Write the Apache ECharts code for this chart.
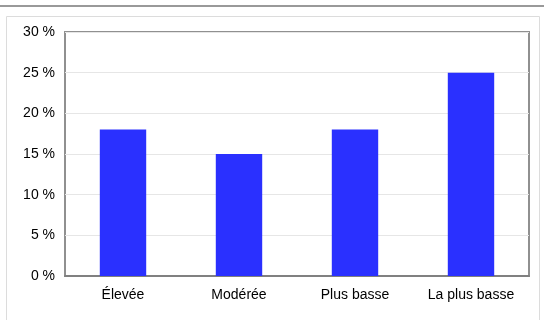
<!DOCTYPE html>
<html>
<head>
<meta charset="utf-8">
<script src="https://cdn.jsdelivr.net/npm/echarts@6/dist/echarts.min.js"></script>
<style>
html,body{margin:0;padding:0;background:#fff;}
#c{width:544px;height:320px;}
</style>
</head>
<body>
<div id="c"></div>
<script>
var categories = ['Élevée', 'Modérée', 'Plus basse', 'La plus basse'];
var values = [18, 15, 18, 25];

var chart = echarts.init(document.getElementById('c'), null, {renderer: 'canvas'});
chart.setOption({
  animation: false,
  backgroundColor: '#fff',
  textStyle: {fontFamily: 'Liberation Sans, Arial, sans-serif'},
  graphic: [
    {type: 'line', shape: {x1: 0, y1: 6, x2: 544, y2: 6}, style: {stroke: '#999', lineWidth: 2}, z: 10},
    {type: 'rect', shape: {x: 6.5, y: 16.5, width: 533, height: 320}, style: {fill: 'none', stroke: '#dcdcdc', lineWidth: 1}, z: -1}
  ],
  grid: {left: 65, right: 15, top: 32, bottom: 44, show: true, borderColor: '#909090', borderWidth: 2, backgroundColor: 'transparent'},
  xAxis: {
    type: 'category',
    data: categories,
    axisLine: {show: true, lineStyle: {color: '#808080', width: 2}},
    axisTick: {show: false},
    axisLabel: {color: '#000', fontSize: 14, margin: 12, fontFamily: 'Liberation Sans, Arial, sans-serif'}
  },
  yAxis: {
    type: 'value',
    min: 0, max: 30, interval: 5,
    axisLine: {show: false},
    axisTick: {show: false},
    splitLine: {show: true, lineStyle: {color: '#e6e6e6', width: 1}},
    axisLabel: {color: '#000', fontSize: 14, margin: 10, formatter: '{value} %', fontFamily: 'Liberation Sans, Arial, sans-serif'}
  },
  series: [{
    type: 'bar',
    data: values,
    barWidth: '40%',
    itemStyle: {color: '#2a30ff'}
  }]
});
</script>
</body>
</html>
